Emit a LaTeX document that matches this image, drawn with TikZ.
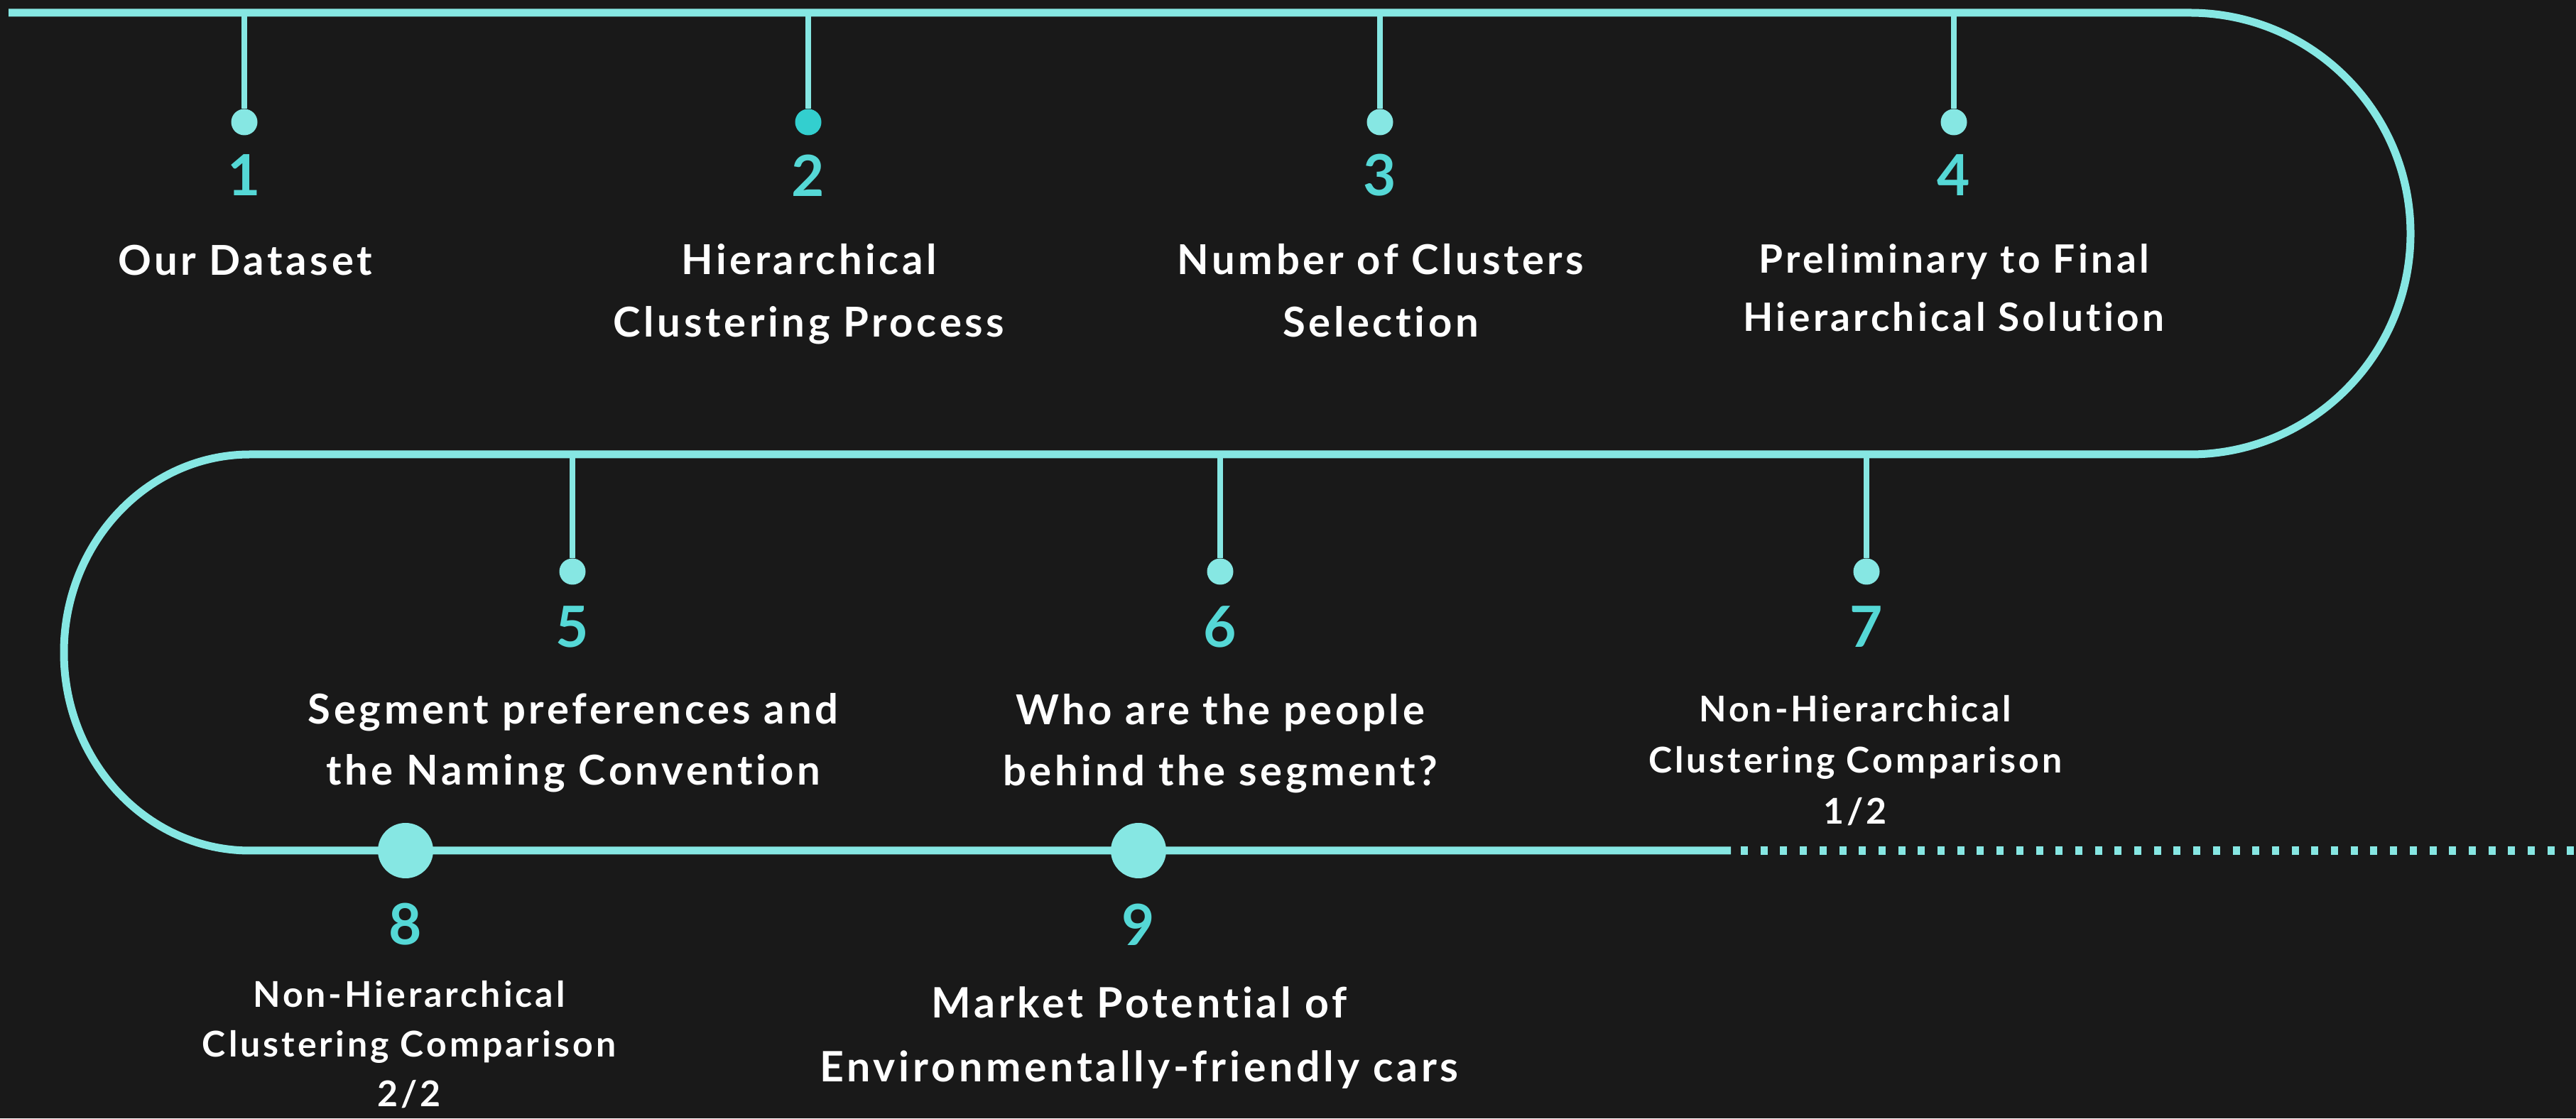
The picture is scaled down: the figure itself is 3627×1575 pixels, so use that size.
\documentclass[tikz,border=0pt]{standalone}
\usepackage{fontspec}
\setmainfont{Lato}[LetterSpace=8, Ligatures={NoCommon}]
\definecolor{bg}{HTML}{191919}
\definecolor{trackc}{HTML}{86E7E3}
\definecolor{numc}{HTML}{55D8D6}
\definecolor{deepc}{HTML}{33CFCF}
\begin{document}
\begin{tikzpicture}[x=1pt,y=1pt,
  track/.style={draw=trackc, line width=11pt},
  stem/.style={draw=trackc, line width=8pt},
  pin/.style={circle, fill=trackc, inner sep=0pt, minimum size=37pt},
  bigpin/.style={circle, fill=trackc, inner sep=0pt, minimum size=78pt},
  num/.style={text=numc, inner sep=0pt, font=\fontsize{80}{80}\selectfont\bfseries},
  lbl/.style={text=white, align=center, inner sep=0pt, font=\fontsize{58}{88}\selectfont\bfseries},
  lblmid/.style={lbl, font=\fontsize{58}{86}\selectfont\bfseries},
  lblfour/.style={lbl, font=\fontsize{55}{82}\selectfont\bfseries},
  lblsmall/.style={lbl, font=\fontsize{50}{72}\selectfont\bfseries},
  lblsmalltight/.style={lbl, font=\fontsize{50}{70}\selectfont\bfseries},
  lblnine/.style={lbl, font=\fontsize{59}{90}\selectfont\bfseries}
]
\fill[bg] (0,0) rectangle (3627,1575);
\useasboundingbox (0,0) rectangle (3627,1575);

% the winding track
\coordinate (t0) at (12,1557);
\coordinate (t1) at (3083,1557);
\coordinate (m0) at (352,935);
\coordinate (b1) at (2437,377);
\coordinate (b2) at (2451,377);
\coordinate (b3) at (3627,377);
\draw[track] (t0) -- (t1) arc[start angle=90, end angle=-90, radius=311]
  -- (m0) arc[start angle=90, end angle=270, x radius=262, y radius=279] -- (b1);
\draw[trackc, line width=12pt, dash pattern=on 10pt off 17.7pt] (b2) -- (b3);

% top row
\coordinate (s1) at (344,1557);
\coordinate (s2) at (1138,1557);
\coordinate (s3) at (1943,1557);
\coordinate (s4) at (2751,1557);
\node[pin] (p1) at (344,1403) {};
\node[pin, fill=deepc] (p2) at (1138,1403) {};
\node[pin] (p3) at (1943,1403) {};
\node[pin] (p4) at (2751,1403) {};
\draw[stem] (s1) -- (p1);
\draw[stem] (s2) -- (p2);
\draw[stem] (s3) -- (p3);
\draw[stem] (s4) -- (p4);
\node[num] (n1) at (344,1328) {1};
\node[num] (n2) at (1138,1328) {2};
\node[num] (n3) at (1943,1328) {3};
\node[num] (n4) at (2751,1328) {4};
\node[lbl] (l1) at (345,1208) {Our Dataset};
\node[lbl] (l2) at (1139,1161) {Hierarchical\\Clustering Process};
\node[lbl] (l3) at (1944,1166) {Number of Clusters\\Selection};
\node[lblfour] (l4) at (2751,1170) {Preliminary to Final\\Hierarchical Solution};

% middle row
\coordinate (s5) at (806,935);
\coordinate (s6) at (1718,935);
\coordinate (s7) at (2628,935);
\node[pin] (p5) at (806,770) {};
\node[pin] (p6) at (1718,770) {};
\node[pin] (p7) at (2628,770) {};
\draw[stem] (s5) -- (p5);
\draw[stem] (s6) -- (p6);
\draw[stem] (s7) -- (p7);
\node[num] (n5) at (806,692) {5};
\node[num] (n6) at (1718,692) {6};
\node[num] (n7) at (2628,692) {7};
\node[lblmid] (l5) at (807,529) {Segment preferences and\\the Naming Convention};
\node[lblmid] (l6) at (1718,528) {Who are the people\\behind the segment?};
\node[lblsmall] (l7) at (2612,504) {Non-Hierarchical\\Clustering Comparison\\1/2};

% bottom row
\node[bigpin] (p8) at (571,377) {};
\node[bigpin] (p9) at (1603,377) {};
\node[num] (n8) at (571,273) {8};
\node[num] (n9) at (1603,273) {9};
\node[lblsmalltight] (l8) at (576,104) {Non-Hierarchical\\Clustering Comparison\\2/2};
\node[lblnine] (l9) at (1604,113) {Market Potential of\\Environmentally-friendly cars};
\end{tikzpicture}
\end{document}
